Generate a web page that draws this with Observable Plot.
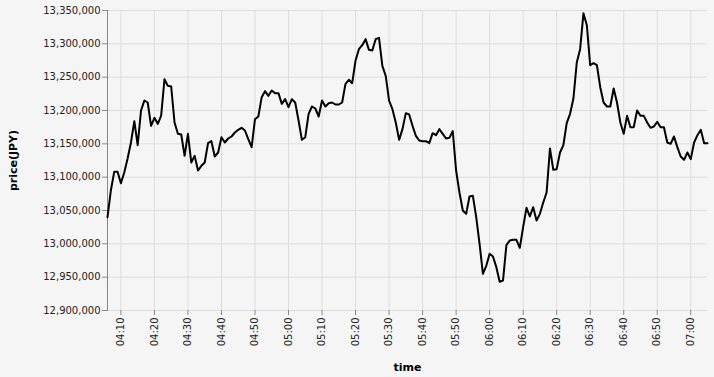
<!DOCTYPE html>
<html>
<head>
<meta charset="utf-8">
<script src="https://cdn.jsdelivr.net/npm/d3@7"></script>
<script src="https://cdn.jsdelivr.net/npm/@observablehq/plot@0.6"></script>
<style>
  html, body { margin: 0; padding: 0; background: #f5f5f5; }
  #chart svg { display: block; }
  #chart g[aria-label="x-axis label"] text,
  #chart g[aria-label="y-axis label"] text { font-weight: bold; font-size: 11px; fill: #000; }
</style>
</head>
<body>
<div id="chart"></div>
<script>
// Start of the minute series (one observation per minute)
const startTime = "2024-01-01T04:06:00Z";
// Prices in JPY, one per minute from 04:06 to 07:05
const prices = [
  13040000, 13080000, 13108000, 13108000, 13091000, 13107000, 13128000, 13152000, 13184000, 13148000,
  13200000, 13215000, 13212000, 13177000, 13189000, 13180000, 13192000, 13247000, 13237000, 13236000,
  13182000, 13165000, 13164000, 13132000, 13165000, 13122000, 13132000, 13110000, 13117000, 13122000,
  13151000, 13154000, 13131000, 13137000, 13160000, 13152000, 13158000, 13161000, 13167000, 13171000,
  13174000, 13170000, 13157000, 13145000, 13187000, 13191000, 13220000, 13229000, 13222000, 13230000,
  13226000, 13226000, 13210000, 13217000, 13205000, 13217000, 13212000, 13185000, 13156000, 13160000,
  13195000, 13206000, 13203000, 13191000, 13215000, 13206000, 13211000, 13212000, 13209000, 13209000,
  13212000, 13240000, 13246000, 13241000, 13275000, 13292000, 13298000, 13307000, 13291000, 13290000,
  13307000, 13309000, 13267000, 13252000, 13215000, 13202000, 13182000, 13156000, 13172000, 13196000,
  13194000, 13177000, 13162000, 13155000, 13154000, 13154000, 13151000, 13166000, 13163000, 13172000,
  13165000, 13158000, 13159000, 13169000, 13110000, 13077000, 13050000, 13045000, 13071000, 13072000,
  13040000, 13000000, 12955000, 12967000, 12985000, 12981000, 12965000, 12943000, 12945000, 12998000,
  13005000, 13006000, 13006000, 12994000, 13025000, 13054000, 13041000, 13055000, 13035000, 13045000,
  13062000, 13077000, 13143000, 13111000, 13112000, 13137000, 13148000, 13181000, 13195000, 13218000,
  13272000, 13292000, 13346000, 13328000, 13268000, 13271000, 13268000, 13235000, 13212000, 13206000,
  13206000, 13233000, 13212000, 13182000, 13165000, 13192000, 13175000, 13175000, 13200000, 13192000,
  13192000, 13182000, 13174000, 13176000, 13183000, 13175000, 13175000, 13152000, 13150000, 13161000,
  13145000, 13131000, 13126000, 13137000, 13127000, 13152000, 13163000, 13171000, 13151000, 13151000
];
const yDomain = [12900000, 13350000];
const yTicks = d3.range(12900000, 13350001, 50000);

const t0 = new Date(startTime);
const data = prices.map((price, i) => ({ time: d3.utcMinute.offset(t0, i), price }));
const xDomain = [data[0].time, data[data.length - 1].time];
const xTicks = d3.utcMinute.every(10).range(xDomain[0], d3.utcMinute.offset(xDomain[1], 1));

const chart = Plot.plot({
  width: 714,
  height: 377,
  marginLeft: 107,
  marginRight: 7,
  marginTop: 10,
  marginBottom: 67,
  style: { background: "#f5f5f5", fontFamily: "DejaVu Sans", fontSize: "10px", color: "#222" },
  x: { type: "utc", domain: xDomain },
  y: { domain: yDomain },
  marks: [
    Plot.gridY(yTicks, { stroke: "#ddd", strokeOpacity: 1 }),
    Plot.gridX(xTicks, { stroke: "#ddd", strokeOpacity: 1 }),
    Plot.axisY(yTicks, {
      tickFormat: d3.format(","), tickSize: 5, tickPadding: 2, stroke: "#888", fill: "#222",
      label: "price(JPY)", labelAnchor: "center", labelArrow: "none", labelOffset: 98
    }),
    Plot.axisX(xTicks, {
      tickFormat: d3.utcFormat("%H:%M"), tickRotate: -90, tickSize: 5, tickPadding: 2, stroke: "#888", fill: "#222",
      label: "time", labelAnchor: "center", labelArrow: "none", labelOffset: 60
    }),
    Plot.frame({ anchor: "left", stroke: "#888" }),
    Plot.lineY(data, { x: "time", y: "price", stroke: "#000", strokeWidth: 2 })
  ]
});
document.getElementById("chart").append(chart);
</script>
</body>
</html>
